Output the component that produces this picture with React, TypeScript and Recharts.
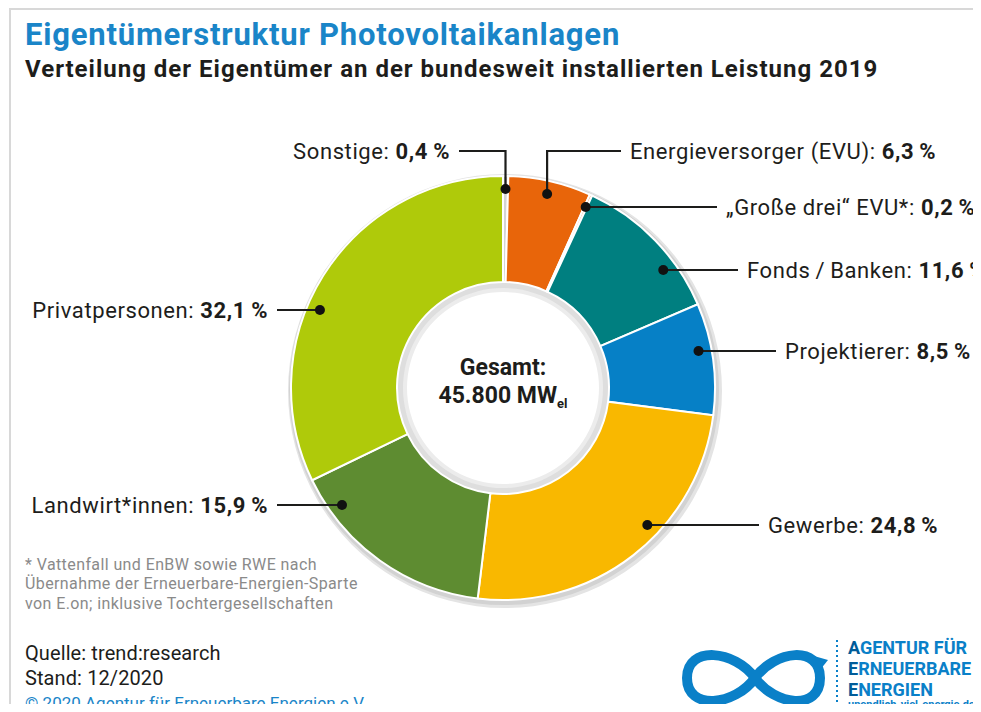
import React from "react";
import { Cell, Pie, PieChart } from "recharts";

// Eigentümerstruktur PV 2019, Anteile an der installierten Leistung in %
const categories = [
    "Sonstige",
    "Energieversorger (EVU)",
    "„Große drei“ EVU*",
    "Fonds\u2009/\u2009Banken",
    "Projektierer",
    "Gewerbe",
    "Landwirt*innen",
    "Privatpersonen",
];
const shares = [0.4, 6.3, 0.2, 11.6, 8.5, 24.8, 15.9, 32.1];
const sliceColors = ["#d4d4d4", "#e8650a", "#f4b27e", "#007f80", "#0680c6", "#f9b800", "#5e8c31", "#afca0a"];

const totalLabel = "45.800 MW";
const footnoteLines = [
    "* Vattenfall und EnBW sowie RWE nach",
    "Übernahme der Erneuerbare-Energien-Sparte",
    "von E.on; inklusive Tochtergesellschaften",
];

// where each label sits (layout only)
const labelLayout = [
    { side: "left", y: 151, textX: 450, elbow: true },
    { side: "right", y: 151, textX: 630, elbow: true },
    { side: "right", y: 207, textX: 726, elbow: false },
    { side: "right", y: 270, textX: 747, elbow: false },
    { side: "right", y: 351, textX: 785, elbow: false },
    { side: "right", y: 525, textX: 768, elbow: false },
    { side: "left", y: 505, textX: 268, elbow: false },
    { side: "left", y: 310, textX: 268, elbow: false },
];

const FONT = "Roboto, 'DejaVu Sans', sans-serif";
const INK = "#1d1d1b";
const BLUE = "#1a85c8";
const LOGO_BLUE = "#0a80c8";
const RAD = Math.PI / 180;

const fmt = (v: number) => `${v.toFixed(1).replace(".", ",")}\u2009%`;

const pieData = categories.map((name, i) => ({ name, value: shares[i] }));

function renderLabel(props: any) {
    const { cx, cy, midAngle, index } = props;
    const lay = labelLayout[index];
    const dotR = 199;
    let px: number;
    let py: number;
    if (lay.elbow) {
        px = cx + dotR * Math.cos(-midAngle * RAD);
        py = cy + dotR * Math.sin(-midAngle * RAD);
    } else {
        const off = Math.sqrt(dotR * dotR - (lay.y - cy) ** 2);
        px = lay.side === "right" ? cx + off : cx - off;
        py = lay.y;
    }
    const lineEnd = lay.side === "right" ? lay.textX - 9 : lay.textX + 9;
    const points = lay.elbow
        ? `${px},${py} ${px},${lay.y} ${lineEnd},${lay.y}`
        : `${px},${py} ${lineEnd},${lay.y}`;
    return (
        <g key={`lbl-${index}`}>
            <polyline points={points} fill="none" stroke={INK} strokeWidth={2.2} />
            <circle cx={px} cy={py} r={5} fill="#111" />
            <text
                x={lay.textX}
                y={lay.y}
                textAnchor={lay.side === "right" ? "start" : "end"}
                dominantBaseline="central"
                fontFamily={FONT}
                fontSize={22}
                letterSpacing={0.6}
                fill={INK}
            >
                {`${categories[index]}: `}
                <tspan fontWeight={700}>{fmt(shares[index])}</tspan>
            </text>
        </g>
    );
}

const abs = (left: number, top: number, extra: React.CSSProperties = {}): React.CSSProperties => ({
    position: "absolute",
    left,
    top,
    whiteSpace: "nowrap",
    fontFamily: FONT,
    lineHeight: 1,
    ...extra,
});

export default function App() {
    return (
        <div style={{ position: "relative", margin: -8, width: 981, height: 712, overflow: "hidden", background: "#fff" }}>
            {/* frame */}
            <div style={{ position: "absolute", left: 0, top: 0, width: 981, height: 8, background: "#ececec" }} />
            <div style={{ position: "absolute", left: 9, top: 8, width: 972, height: 2, background: "#d8d8d8" }} />
            <div style={{ position: "absolute", left: 9, top: 8, width: 2, height: 704, background: "#d8d8d8" }} />

            <div style={{ position: "absolute", left: 0, top: 0 }}>
                <PieChart width={981} height={712} margin={{ top: 0, right: 0, bottom: 0, left: 0 }}>
                    {/* soft outer shadow */}
                    <Pie
                        data={[{ value: 1 }]}
                        dataKey="value"
                        cx={505}
                        cy={391}
                        innerRadius={200}
                        outerRadius={217}
                        fill="#e4e4e4"
                        stroke="none"
                        isAnimationActive={false}
                        legendType="none"
                    />
                    <Pie
                        data={[{ value: 1 }]}
                        dataKey="value"
                        cx={504}
                        cy={390}
                        innerRadius={200}
                        outerRadius={215}
                        fill="#d2d2d2"
                        stroke="none"
                        isAnimationActive={false}
                        legendType="none"
                    />
                    {/* inner shadow of the centre disc */}
                    <Pie
                        data={[{ value: 1 }]}
                        dataKey="value"
                        cx={503}
                        cy={388}
                        innerRadius={96}
                        outerRadius={110}
                        fill="#ececec"
                        stroke="none"
                        isAnimationActive={false}
                        legendType="none"
                    />
                    <Pie
                        data={[{ value: 1 }]}
                        dataKey="value"
                        cx={503}
                        cy={388}
                        innerRadius={100}
                        outerRadius={110}
                        fill="#dedede"
                        stroke="none"
                        isAnimationActive={false}
                        legendType="none"
                    />
                    <Pie
                        data={pieData}
                        dataKey="value"
                        nameKey="name"
                        cx={503}
                        cy={388}
                        innerRadius={106}
                        outerRadius={212}
                        startAngle={90}
                        endAngle={-270}
                        stroke="#ffffff"
                        strokeWidth={2}
                        label={renderLabel}
                        labelLine={false}
                        isAnimationActive={false}
                    >
                        {pieData.map((d, i) => (
                            <Cell key={d.name} fill={sliceColors[i]} />
                        ))}
                    </Pie>
                </PieChart>
            </div>

            {/* titles */}
            <div style={abs(25, 19, { fontSize: 31, fontWeight: 700, color: BLUE, letterSpacing: 0.8 })}>
                Eigentümerstruktur Photovoltaikanlagen
            </div>
            <div style={abs(25, 57, { fontSize: 24, fontWeight: 700, color: INK, letterSpacing: 1 })}>
                Verteilung der Eigentümer an der bundesweit installierten Leistung 2019
            </div>

            {/* centre */}
            <div style={abs(403, 354, { width: 200, textAlign: "center", fontSize: 23, fontWeight: 700, color: INK, lineHeight: "28px" })}>
                Gesamt:
                <br />
                {totalLabel}
                <span style={{ fontSize: 13, position: "relative", top: 5 }}>el</span>
            </div>

            {/* footnote */}
            {footnoteLines.map((line, i) => (
                <div key={line} style={abs(25, 557 + i * 19.3, { fontSize: 16, color: "#8a8a8a", letterSpacing: 0.4 })}>
                    {line}
                </div>
            ))}

            <div style={abs(25, 643, { fontSize: 20, color: INK, letterSpacing: 0.1 })}>Quelle: trend:research</div>
            <div style={abs(25, 668, { fontSize: 20, color: INK, letterSpacing: 0.1 })}>Stand: 12/2020</div>
            <div style={abs(25, 695, { fontSize: 17, color: BLUE })}>© 2020 Agentur für Erneuerbare Energien e.V.</div>

            {/* logo */}
            <svg style={{ position: "absolute", left: 670, top: 630 }} width={180} height={82}>
                <path
                    d="M 85 48 C 105 20, 150 15, 150 48 C 150 81, 105 76, 85 48 C 65 20, 17 15, 17 48 C 17 81, 65 76, 85 48 Z"
                    fill="none"
                    stroke={LOGO_BLUE}
                    strokeWidth={10}
                />
                <polygon points="144,26 158,30 150,40" fill={LOGO_BLUE} />
                <line x1={167} y1={10} x2={167} y2={82} stroke={LOGO_BLUE} strokeWidth={2} strokeDasharray="2 3" />
            </svg>
            {["GENTUR FÜR", "RNEUERBARE", "NERGIEN"].map((rest, i) => (
                <div key={rest} style={abs(848, 639 + i * 21, { fontSize: 18, fontWeight: 700, color: LOGO_BLUE })}>
                    <span style={{ color: "#005c99" }}>{i === 0 ? "A" : "E"}</span>
                    {rest}
                </div>
            ))}
            <div style={abs(848, 699, { fontSize: 11, fontWeight: 700, color: LOGO_BLUE })}>unendlich-viel-energie.de</div>
        </div>
    );
}
